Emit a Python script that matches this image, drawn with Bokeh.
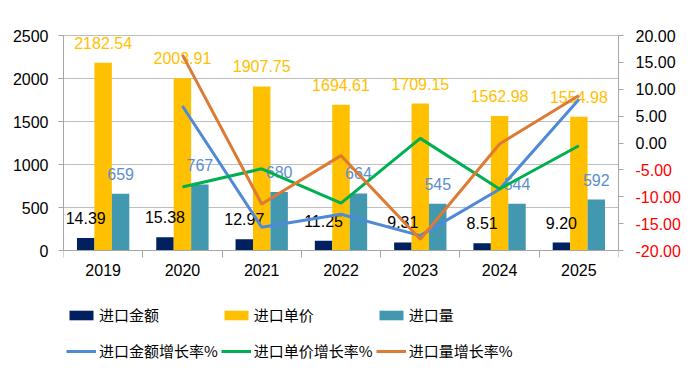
from bokeh.plotting import figure
from bokeh.layouts import column, row
from bokeh.models import (ColumnDataSource, Range1d, LinearAxis, FixedTicker,
                          Legend, LegendItem)
from bokeh.core.properties import value
from bokeh.embed import file_html
from bokeh.resources import INLINE

years = ["2019", "2020", "2021", "2022", "2023", "2024", "2025"]
amount = [14.39, 15.38, 12.97, 11.25, 9.31, 8.51, 9.20]          # 进口金额 (label)
amount_bar = [143.9, 153.8, 129.7, 112.5, 93.1, 85.1, 92.0]      # bar height on left axis
price = [2182.54, 2003.91, 1907.75, 1694.61, 1709.15, 1562.98, 1554.98]
volume = [659, 767, 680, 664, 545, 544, 592]
amount_growth = [6.88, -15.67, -13.26, -17.24, -8.59, 8.11]       # 2020-2025
price_growth = [-8.18, -4.80, -11.17, 0.86, -8.55, -0.51]
volume_growth = [16.39, -11.34, -2.35, -17.92, -0.18, 8.82]

left_ticks = [0, 500, 1000, 1500, 2000, 2500]
right_ticks = [-20, -15, -10, -5, 0, 5, 10, 15, 20]

FONT = "Liberation Sans"
CJK = "Noto Sans CJK SC"
NAVY, GOLD, TEAL = "#002060", "#FFC000", "#4198AF"
BLUE, GREEN, ORANGE = "#4F8AD8", "#00B050", "#DD7A33"
AXISC = "#A6A6A6"

# plot area: value axes span 215 px; frame padded 8 px above/below so tick labels fit
AX_H, PAD, TOP, BOTTOM = 215, 8, 27, 40
FRAME_H = AX_H + 2 * PAD
upl = 2500 / AX_H
upr = 40 / AX_H
H = TOP + FRAME_H + BOTTOM

p = figure(width=630, height=H, output_backend="svg", toolbar_location=None,
           x_range=Range1d(0, 7), y_range=Range1d(-PAD * upl, 2500 + PAD * upl),
           min_border_left=63, min_border_right=12, min_border_top=TOP,
           min_border_bottom=BOTTOM)
p.extra_y_ranges = {"r": Range1d(-20 - PAD * upr, 20 + PAD * upr)}
p.outline_line_color = None
p.background_fill_color = "white"

xc = [i + 0.5 for i in range(len(years))]
bw = 0.22
src = ColumnDataSource(dict(
    xa=[x - bw for x in xc], xp=xc, xv=[x + bw for x in xc],
    amount_bar=amount_bar, price=price, volume=volume,
    amount_lbl=["%.2f" % v for v in amount],
    price_lbl=["%.2f" % v for v in price],
    volume_lbl=[str(v) for v in volume]))

p.vbar(x="xa", top="amount_bar", width=bw, source=src, fill_color=NAVY, line_color=None)
p.vbar(x="xp", top="price", width=bw, source=src, fill_color=GOLD, line_color=None)
p.vbar(x="xv", top="volume", width=bw, source=src, fill_color=TEAL, line_color=None)

for xcol, ycol, tcol, col in [("xa", "amount_bar", "amount_lbl", "#000000"),
                              ("xp", "price", "price_lbl", GOLD),
                              ("xv", "volume", "volume_lbl", "#5B8ED0")]:
    p.text(x=xcol, y=ycol, text=tcol, source=src, text_align="center",
           text_baseline="middle", y_offset=-20, text_color=col,
           text_font=value(FONT), text_font_size="16px")

gx = xc[1:]
p.line(gx, amount_growth, y_range_name="r", line_color=BLUE, line_width=3)
p.line(gx, price_growth, y_range_name="r", line_color=GREEN, line_width=3)
p.line(gx, volume_growth, y_range_name="r", line_color=ORANGE, line_width=3)

# grid
p.xgrid.visible = False
p.ygrid.ticker = FixedTicker(ticks=left_ticks)
p.ygrid.grid_line_color = "#BFBFBF"
p.ygrid.grid_line_width = 1

# left axis
ya = p.yaxis[0]
ya.ticker = FixedTicker(ticks=left_ticks)
ya.bounds = (0, 2500)
ya.axis_line_color = AXISC
ya.major_tick_line_color = AXISC
ya.major_tick_out = 5
ya.major_tick_in = 0
ya.minor_tick_line_color = None
ya.major_label_text_font = FONT
ya.major_label_text_font_size = "16px"
ya.major_label_text_color = "#000000"
ya.major_label_standoff = 10

# bottom axis: year labels (no line, no ticks)
xa = p.xaxis[0]
xa.ticker = FixedTicker(ticks=xc)
xa.major_label_overrides = {x: y for x, y in zip(xc, years)}
xa.axis_line_color = None
xa.major_tick_line_color = None
xa.major_tick_out = 0
xa.major_tick_in = 0
xa.minor_tick_line_color = None
xa.major_label_text_font = FONT
xa.major_label_text_font_size = "16px"
xa.major_label_text_color = "#000000"
xa.major_label_standoff = 5

# category axis line with boundary ticks, drawn at value 0
xl = LinearAxis(fixed_location=0, ticker=FixedTicker(ticks=xc, minor_ticks=list(range(8))))
xl.major_label_overrides = {x: " " for x in xc}
xl.major_label_text_font_size = "1px"
xl.major_label_standoff = 0
xl.major_tick_line_color = None
xl.major_tick_out = 0
xl.major_tick_in = 0
xl.minor_tick_line_color = AXISC
xl.minor_tick_out = 7
xl.minor_tick_in = 0
xl.axis_line_color = AXISC
p.add_layout(xl, "below")

# right axis: line and ticks (labels drawn in the strip at right, coloured by sign)
ra = LinearAxis(y_range_name="r", ticker=FixedTicker(ticks=right_ticks), bounds=(-20, 20))
ra.axis_line_color = AXISC
ra.major_tick_line_color = AXISC
ra.major_tick_out = 5
ra.major_tick_in = 0
ra.minor_tick_line_color = None
ra.major_label_standoff = 0
ra.major_label_text_font_size = "1px"
ra.major_label_overrides = {t: " " for t in right_ticks}
p.add_layout(ra, "right")

# right tick-label strip, same vertical frame and scale as the right axis
rf = figure(width=70, height=H, output_backend="svg",
            toolbar_location=None, x_axis_location=None, y_axis_location=None,
            x_range=Range1d(0, 70), y_range=Range1d(-20 - PAD * upr, 20 + PAD * upr),
            min_border_left=0, min_border_right=0, min_border_top=TOP,
            min_border_bottom=BOTTOM)
rf.grid.visible = False
rf.outline_line_color = None
rsrc = ColumnDataSource(dict(
    x=[5] * len(right_ticks), y=right_ticks,
    t=["%.2f" % t for t in right_ticks],
    c=["#FF0000" if t < 0 else "#000000" for t in right_ticks]))
rf.text(x="x", y="y", text="t", text_color="c", source=rsrc,
        text_align="left", text_baseline="middle",
        text_font=value(FONT), text_font_size="16px")

# legend strip below the chart
lf = figure(width=700, height=376 - H, output_backend="svg", toolbar_location=None,
            x_axis_location=None, y_axis_location=None,
            x_range=Range1d(0, 1), y_range=Range1d(0, 1),
            min_border_left=66, min_border_right=0, min_border_top=0,
            min_border_bottom=0)
lf.grid.visible = False
lf.outline_line_color = None
la = lf.vbar(x=[5], top=[5], width=0.1, fill_color=NAVY, line_color=None)
lp = lf.vbar(x=[5], top=[5], width=0.1, fill_color=GOLD, line_color=None)
lv = lf.vbar(x=[5], top=[5], width=0.1, fill_color=TEAL, line_color=None)
lag = lf.line(x=[5, 6], y=[5, 6], line_color=BLUE, line_width=3)
lpg = lf.line(x=[5, 6], y=[5, 6], line_color=GREEN, line_width=3)
lvg = lf.line(x=[5, 6], y=[5, 6], line_color=ORANGE, line_width=3)

legend = Legend(items=[
    LegendItem(label="进口金额", renderers=[la]),
    LegendItem(label="进口单价", renderers=[lp]),
    LegendItem(label="进口量", renderers=[lv]),
    LegendItem(label="进口金额增长率%", renderers=[lag]),
    LegendItem(label="进口单价增长率%", renderers=[lpg]),
    LegendItem(label="进口量增长率%", renderers=[lvg]),
], ncols=3, orientation="horizontal", location="top_left")
legend.border_line_color = None
legend.background_fill_alpha = 0
legend.padding = 0
legend.margin = 0
legend.spacing = 3
legend.glyph_width = 30
legend.glyph_height = 12
legend.label_standoff = 3
legend.label_height = 33
legend.label_width = 118
legend.label_text_font = CJK
legend.label_text_font_size = "15px"
legend.label_text_color = "#000000"
lf.add_layout(legend, "center")

layout = column(row(p, rf, spacing=0), lf, spacing=0)
open("out.html", "w").write(file_html(layout, INLINE))
